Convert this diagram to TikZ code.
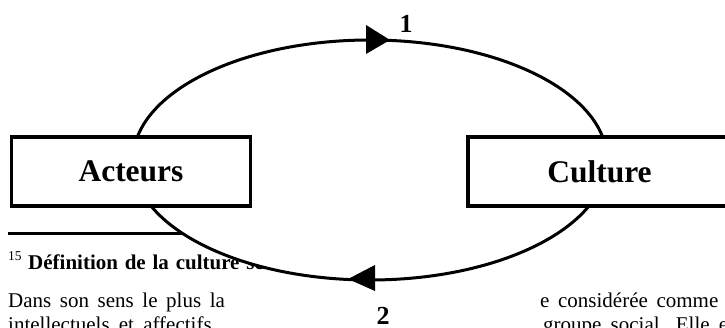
\documentclass[tikz,border=0pt]{standalone}
\usepackage{fontspec}
\setmainfont{Liberation Serif}
\usetikzlibrary{shapes.geometric}
\begin{document}
\begin{tikzpicture}[x=1pt,y=-1pt,
  boxst/.style={draw, line width=3.5pt, fill=white, inner sep=0pt,
    minimum height=69pt, font=\fontsize{31.5}{36}\selectfont\bfseries},
  bodytext/.style={anchor=base west, inner sep=0pt, font=\fontsize{21}{24}\selectfont},
  headtext/.style={anchor=base west, inner sep=0pt, font=\fontsize{21}{24}\selectfont\bfseries},
  numlabel/.style={anchor=base, inner sep=0pt, font=\fontsize{26}{30}\selectfont\bfseries},
  loopline/.style={line width=3pt},
  tipst/.style={fill=black}]
\useasboundingbox (0,0) rectangle (725,328);
\clip (0,0) rectangle (725,328);

% footnote text behind the diagram
\node[anchor=base west, inner sep=0pt, font=\fontsize{13.5}{16}\selectfont] (fnnum) at (8,261) {15};
\node[headtext] (fnhead) at (28,270) {\spaceskip=6.8pt\relax Définition de la culture se};
\node[bodytext] (l1a) at (8,308) {\spaceskip=8.6pt\relax Dans son sens le plus la};
\node[bodytext] (l1b) at (540,308) {\spaceskip=8.6pt\relax e considérée comme};
\node[bodytext] (l2a) at (8,332) {\spaceskip=9.2pt\relax intellectuels et affectifs};
\node[bodytext] (l2b) at (543,332) {\spaceskip=9.2pt\relax groupe social. Elle e};
\coordinate (rulea) at (8,233.5);
\coordinate (ruleb) at (260,233.5);
\draw[line width=2.5pt] (rulea) -- (ruleb);

% white panel holding label 2
\fill[white] (229,278) rectangle (537,330);

% the loop
\node[draw, loopline, fill=white, ellipse, minimum width=474pt, minimum height=240pt, inner sep=0pt] (loop) at (370,160) {};

% boxes
\node[boxst, minimum width=239pt] (act) at (131,171.5) {Acteurs};
\node[boxst, minimum width=263pt] (cul) at (599.5,171.5) {Culture};

% arrowheads
\coordinate (t1) at (390,40);
\coordinate (t1a) at (366,25);
\coordinate (t1b) at (366,54);
\fill[tipst] (t1) -- (t1a) -- (t1b) -- cycle;
\coordinate (t2) at (348,279);
\coordinate (t2a) at (375,265);
\coordinate (t2b) at (375,291);
\fill[tipst] (t2) -- (t2a) -- (t2b) -- cycle;

% labels
\node[numlabel] (n1) at (406,33) {1};
\node[numlabel] (n2) at (383,324.5) {2};
\end{tikzpicture}
\end{document}
